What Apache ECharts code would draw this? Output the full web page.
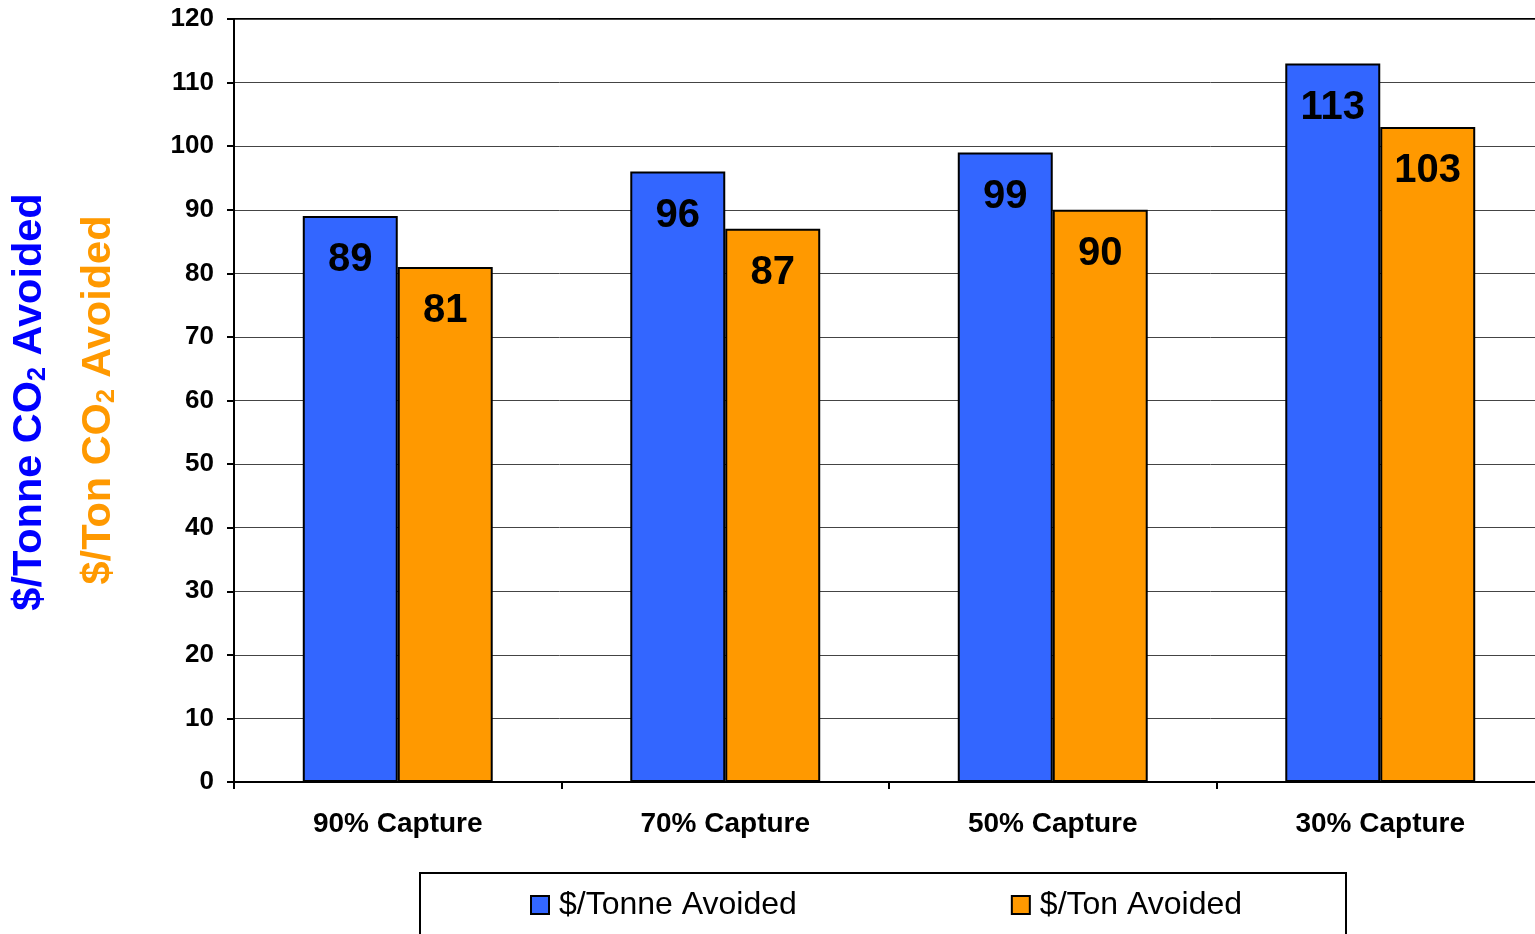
<!DOCTYPE html>
<html>
<head>
<meta charset="utf-8">
<script src="https://cdn.jsdelivr.net/npm/echarts@6/dist/echarts.min.js"></script>
<style>
  html, body { margin: 0; padding: 0; background: #fff; }
  #chart { width: 1535px; height: 934px; }
</style>
</head>
<body>
<div id="chart"></div>
<script>
// Cost of CO2 avoided by capture level
const categories = ['90% Capture', '70% Capture', '50% Capture', '30% Capture'];
const perTonne = [89, 96, 99, 113];
const perTon = [81, 87, 90, 103];
const seriesNames = ['$/Tonne Avoided', '$/Ton Avoided'];
const yTicks = { min: 0, max: 120, interval: 10 };

const BLUE = '#3366FF';
const ORANGE = '#FF9900';
const FONT = 'Liberation Sans, Arial, sans-serif';

const chart = echarts.init(document.getElementById('chart'));

const valueLabel = {
  show: true,
  position: 'insideTop',
  distance: 24,
  color: '#000',
  fontFamily: FONT,
  fontWeight: 'bold',
  fontSize: 40
};

const barStyle = (color) => ({ color: color, borderColor: '#000', borderWidth: 2 });

chart.setOption({
  animation: false,
  backgroundColor: '#fff',
  grid: {
    left: 234, top: 19, width: 1310, bottom: 152,
    outerBoundsMode: 'none',
    show: true, borderColor: '#000', borderWidth: 2, backgroundColor: 'transparent'
  },
  xAxis: {
    type: 'category',
    data: categories,
    axisLine: { lineStyle: { color: '#000', width: 2 } },
    axisTick: { show: true, length: 7, lineStyle: { color: '#000', width: 2 } },
    axisLabel: {
      margin: 28, color: '#000', fontFamily: FONT, fontWeight: 'bold', fontSize: 28
    },
    splitLine: { show: false }
  },
  yAxis: {
    type: 'value',
    min: yTicks.min, max: yTicks.max, interval: yTicks.interval,
    axisLine: { show: true, lineStyle: { color: '#000', width: 2 } },
    axisTick: { show: true, length: 7, lineStyle: { color: '#000', width: 2 } },
    axisLabel: {
      margin: 20, color: '#000', fontFamily: FONT, fontWeight: 'bold', fontSize: 26
    },
    splitLine: { show: true, lineStyle: { color: '#444', width: 1 } }
  },
  legend: {
    data: seriesNames,
    left: 525, top: 884,
    itemWidth: 18, itemHeight: 18,
    itemGap: 214,
    icon: 'rect',
    itemStyle: { borderColor: '#000', borderWidth: 2 },
    textStyle: {
      color: '#000', fontFamily: FONT, fontSize: 32, padding: [0, 0, 0, 5]
    }
  },
  series: [
    {
      name: seriesNames[0], type: 'bar', data: perTonne,
      barGap: '0%', barCategoryGap: '42%',
      itemStyle: barStyle(BLUE), label: valueLabel
    },
    {
      name: seriesNames[1], type: 'bar', data: perTon,
      barGap: '0%', barCategoryGap: '42%',
      itemStyle: barStyle(ORANGE), label: valueLabel
    }
  ],
  graphic: [
    {
      type: 'rect',
      shape: { x: 420, y: 873, width: 926, height: 80 },
      style: { fill: 'transparent', stroke: '#000', lineWidth: 2 },
      z: 0, silent: true
    },
    {
      type: 'text',
      x: 28, y: 402, rotation: Math.PI / 2,
      style: {
        text: '{m|$/Tonne CO}{s|2}{m| Avoided}',
        align: 'center', verticalAlign: 'middle',
        rich: {
          m: { fontFamily: FONT, fontWeight: 'bold', fontSize: 41.5, fill: '#0000FF', lineHeight: 46, verticalAlign: 'bottom' },
          s: { fontFamily: FONT, fontWeight: 'bold', fontSize: 25, fill: '#0000FF', lineHeight: 46, verticalAlign: 'bottom' }
        }
      }
    },
    {
      type: 'text',
      x: 97, y: 400, rotation: Math.PI / 2,
      style: {
        text: '{m|$/Ton CO}{s|2}{m| Avoided}',
        align: 'center', verticalAlign: 'middle',
        rich: {
          m: { fontFamily: FONT, fontWeight: 'bold', fontSize: 41.5, fill: '#FF9900', lineHeight: 46, verticalAlign: 'bottom' },
          s: { fontFamily: FONT, fontWeight: 'bold', fontSize: 25, fill: '#FF9900', lineHeight: 46, verticalAlign: 'bottom' }
        }
      }
    }
  ]
});
</script>
</body>
</html>
